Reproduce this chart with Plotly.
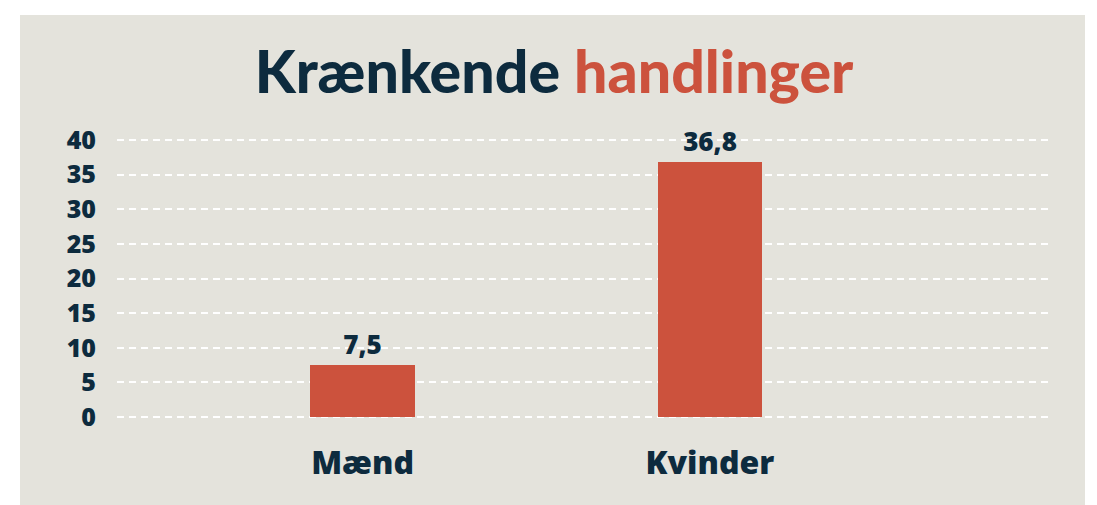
import plotly.graph_objects as go

categories = ["Mænd", "Kvinder"]
values = [7.5, 36.8]
value_labels = ["7,5", "36,8"]
y_ticks = [0, 5, 10, 15, 20, 25, 30, 35, 40]

NAVY = "#0d2b3e"
RED = "#cc523d"
BEIGE = "#e4e3dc"
FONT = "Open Sans"
TITLE_FONT = "Lato"

fig = go.Figure()
fig.add_trace(go.Bar(
    x=categories, y=values,
    marker=dict(color=RED, line=dict(width=0)),
    width=0.3,
    text=value_labels, textposition="outside",
    textfont=dict(family=FONT, size=26, color=NAVY, weight=800),
    cliponaxis=False,
    hoverinfo="skip",
))

fig.update_layout(
    width=1097, height=505,
    margin=dict(l=117, r=47, t=133, b=81),
    paper_bgcolor="white",
    plot_bgcolor=BEIGE,
    showlegend=False,
    title=dict(
        text=f"<span style='color:{NAVY}'>Krænkende</span> <span style='color:{RED}'>handlinger</span>",
        x=0.505, xanchor="center", y=0.857, yanchor="middle",
        font=dict(family=TITLE_FONT, size=59, weight=900),
    ),
    shapes=[dict(type="rect", xref="paper", yref="paper", layer="below",
                 x0=-97/933, x1=(1085-117)/933, y0=-0.3, y1=(505-15-81)/291,
                 fillcolor=BEIGE, line=dict(width=0))],
    bargap=0,
)
fig.update_xaxes(
    range=[-0.707, 1.979], showgrid=False, zeroline=False, showline=False,
    tickfont=dict(family=FONT, size=32, color=NAVY, weight=800),
    ticks="", ticklabelstandoff=17,
)
fig.update_yaxes(
    range=[-1, 41], tickvals=y_ticks, showgrid=True,
    gridcolor="white", griddash="7px,5px", gridwidth=2,
    zeroline=False, showline=False, ticks="",
    tickfont=dict(family=FONT, size=25, color=NAVY, weight=800),
    ticklabelstandoff=20,
)

fig.write_html("out.html", config={"displayModeBar": False},
               post_script="document.body.style.margin='0';")
